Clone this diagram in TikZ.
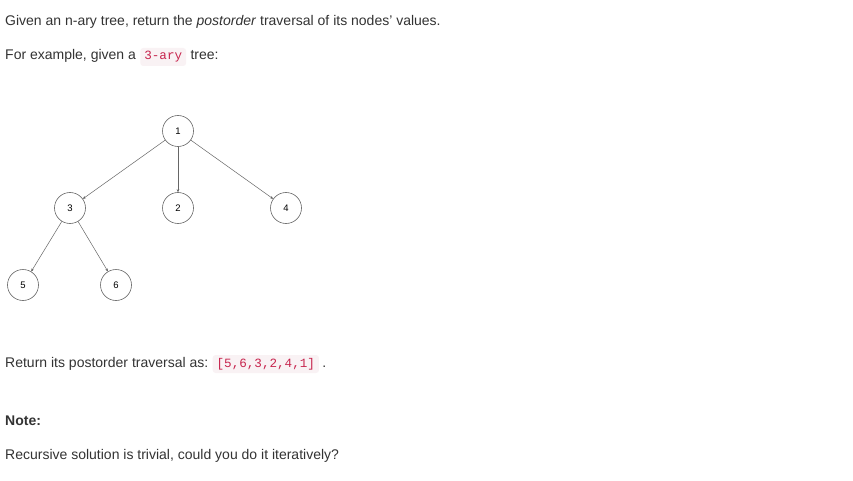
\documentclass[tikz,border=0pt]{standalone}
\usepackage{fontspec}
\setmainfont{Liberation Sans}
\setmonofont{Liberation Mono}
\usetikzlibrary{arrows.meta,positioning}

\definecolor{bodytext}{HTML}{333333}
\definecolor{codebg}{HTML}{F9F2F4}
\definecolor{codered}{HTML}{C7254E}
\definecolor{edgegray}{HTML}{666666}

\begin{document}
\begin{tikzpicture}[x=1pt,y=-1pt,
    main node/.style={circle,draw=edgegray,line width=0.6pt,minimum size=31pt,inner sep=0pt,font=\fontsize{9.5}{10}\selectfont},
    txt/.style={anchor=base west,inner sep=0pt,text=bodytext,font=\fontsize{14}{17}\selectfont},
    codebox/.style={anchor=base west,fill=codebg,rounded corners=3pt,text=codered,inner xsep=4pt,inner ysep=3pt,text height=9pt,text depth=3pt,font=\ttfamily\fontsize{12.6}{15}\selectfont},
    tree edge/.style={draw=edgegray,line width=0.5pt,-{Stealth[length=3pt,width=2.5pt]}}]

    \useasboundingbox[fill=white] (0,0) rectangle (853,481);

    % text above the tree
    \node[txt] (intro) at (5,26) {Given an n-ary tree, return the \emph{postorder} traversal of its nodes\char"0027{} values.};
    \node[txt] (ex) at (5,60) {For example, given a};
    \node[codebox] (ary) at ([xshift=4pt]ex.base east) {3-ary};
    \node[txt] (tree) at ([xshift=4pt]ary.base east) {tree:};

    % the tree
    \node[main node] (1) at (178,131) {1};
    \node[main node] (3) at (70,208) {3};
    \node[main node] (2) at (178,208) {2};
    \node[main node] (4) at (286,208) {4};
    \node[main node] (5) at (23,285) {5};
    \node[main node] (6) at (116,285) {6};

    \path[tree edge]
        (1) edge (3)
        (1) edge (2)
        (1) edge (4)
        (3) edge (5)
        (3) edge (6)
    ;

    % text below the tree
    \node[txt] (ret) at (5,367) {Return its postorder traversal as:};
    \node[codebox] (res) at ([xshift=4pt]ret.base east) {[5,6,3,2,4,1]};
    \node[txt] (dot) at ([xshift=3pt]res.base east) {.};
    \node[txt,font=\bfseries\fontsize{14}{17}\selectfont] (note) at (5,425) {Note:};
    \node[txt] (rec) at (5,459) {Recursive solution is trivial, could you do it iteratively?};
\end{tikzpicture}
\end{document}
